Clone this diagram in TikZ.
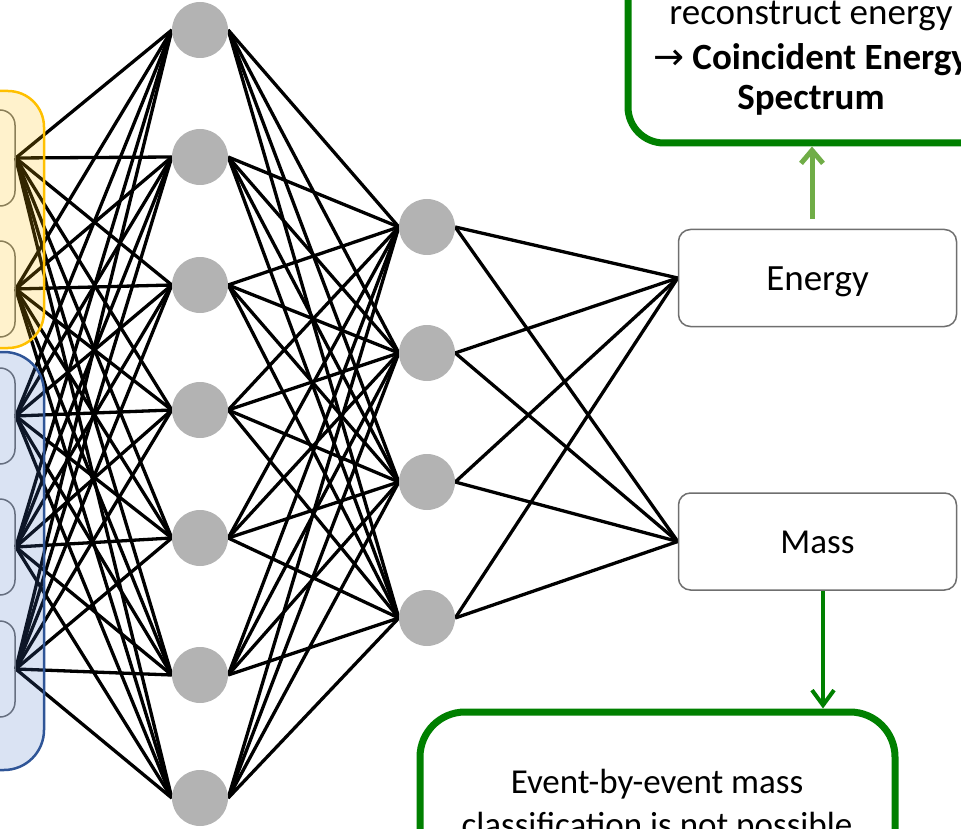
\documentclass[tikz,border=0pt]{standalone}
\usepackage{fontspec}
\setmainfont{Carlito}
\newfontfamily\symfont{DejaVu Sans}
\usetikzlibrary{arrows.meta}
\definecolor{neurongray}{HTML}{B3B3B3}
\definecolor{boxgray}{HTML}{6F6F6F}
\definecolor{darkgreen}{HTML}{008000}
\definecolor{lightgreen}{HTML}{70AD47}
\definecolor{grpyellow}{HTML}{FFC000}
\definecolor{grpblue}{HTML}{2F5597}
\definecolor{grpbluefill}{HTML}{4472C4}
\pgfdeclarelayer{wires}
\pgfdeclarelayer{groups}
\pgfsetlayers{wires,main,groups}
\begin{document}
\begin{tikzpicture}[x=1pt,y=-1pt,
 neuron/.style={circle,fill=neurongray,minimum size=56pt,inner sep=0pt},
 inbox/.style={draw=boxgray,line width=1.5pt,rounded corners=15pt,minimum width=75pt,minimum height=96pt,inner sep=0pt},
 outbox/.style={draw=boxgray,line width=1.5pt,rounded corners=12pt,fill=white,minimum width=278pt,minimum height=97pt,inner sep=0pt,text height=24pt,text depth=0pt},
 wire/.style={line width=3.3pt,black},
 notebox/.style={draw=darkgreen,line width=7pt,inner sep=0pt},
 notetext/.style={anchor=base,inner sep=0pt,font=\fontsize{37}{44}\selectfont},
 grpbox/.style={line width=2.5pt,fill opacity=0.2},
]
\clip (0,0) rectangle (961,829);

% input boxes
\node[inbox] (i1) at (-22.5,158) {};
\node[inbox] (i2) at (-22.5,289) {};
\node[inbox] (i3) at (-22.5,416) {};
\node[inbox] (i4) at (-22.5,547) {};
\node[inbox] (i5) at (-22.5,669) {};

% first hidden layer
\node[neuron] (h1) at (200,30) {};
\node[neuron] (h2) at (200,157) {};
\node[neuron] (h3) at (200,285) {};
\node[neuron] (h4) at (200,410) {};
\node[neuron] (h5) at (200,538) {};
\node[neuron] (h6) at (200,675) {};
\node[neuron] (h7) at (200,798) {};

% second hidden layer
\node[neuron] (g1) at (427,227) {};
\node[neuron] (g2) at (427,353) {};
\node[neuron] (g3) at (427,482) {};
\node[neuron] (g4) at (427,618) {};

% outputs
\node[outbox,font=\fontsize{37}{44}\selectfont] (energy) at (817.5,278) {Energy};
\node[outbox,font=\fontsize{35}{42}\selectfont] (mass) at (817.5,541.5) {Mass};

% wires
\begin{pgfonlayer}{wires}
\foreach \i in {1,...,5}{\foreach \h in {1,...,7}{\draw[wire] (i\i.east) -- (h\h.west);}}
\foreach \h in {1,...,7}{\foreach \g in {1,...,4}{\draw[wire] (h\h.east) -- (g\g.west);}}
\foreach \g in {1,...,4}{\draw[wire] (g\g.east) -- (energy.west); \draw[wire] (g\g.east) -- (mass.west);}
\end{pgfonlayer}

% input groups
\begin{pgfonlayer}{groups}
\draw[grpbox,draw=grpyellow,fill=grpyellow,rounded corners=36pt] (-60,91) rectangle (44,348);
\draw[grpbox,draw=grpblue,fill=grpbluefill,rounded corners=40pt] (-60,352) rectangle (44,770);
\end{pgfonlayer}

% note boxes
\node[notebox,rounded corners=36pt,minimum width=366pt,minimum height=220pt] (topnote) at (811,33) {};
\node[notetext] (t1) at (811,25) {reconstruct energy};
\node[notetext] (t2) at (811,70) {{\symfont →} \textbf{Coincident Energy}};
\node[notetext] (t3) at (811,110) {\textbf{Spectrum}};

\node[notebox,rounded corners=45pt,minimum width=475pt,minimum height=250pt] (botnote) at (657.5,837) {};
\node[notetext,font=\fontsize{35}{42}\selectfont] (b1) at (657,793) {Event-by-event mass};
\node[notetext,font=\fontsize{35}{42}\selectfont] (b2) at (657,836) {classification is not possible};

% result arrows
\draw[lightgreen,line width=5pt,shorten <=10pt,-{Straight Barb[length=13pt,width=22pt]}]
  ([xshift=-5.5pt]energy.north) -- ([xshift=-5.5pt]energy.north |- topnote.south);
\draw[darkgreen,line width=4pt,-{Straight Barb[length=15pt,width=22pt]}]
  ([xshift=5.5pt]mass.south) -- ([xshift=5.5pt]mass.south |- botnote.north);
\end{tikzpicture}
\end{document}
